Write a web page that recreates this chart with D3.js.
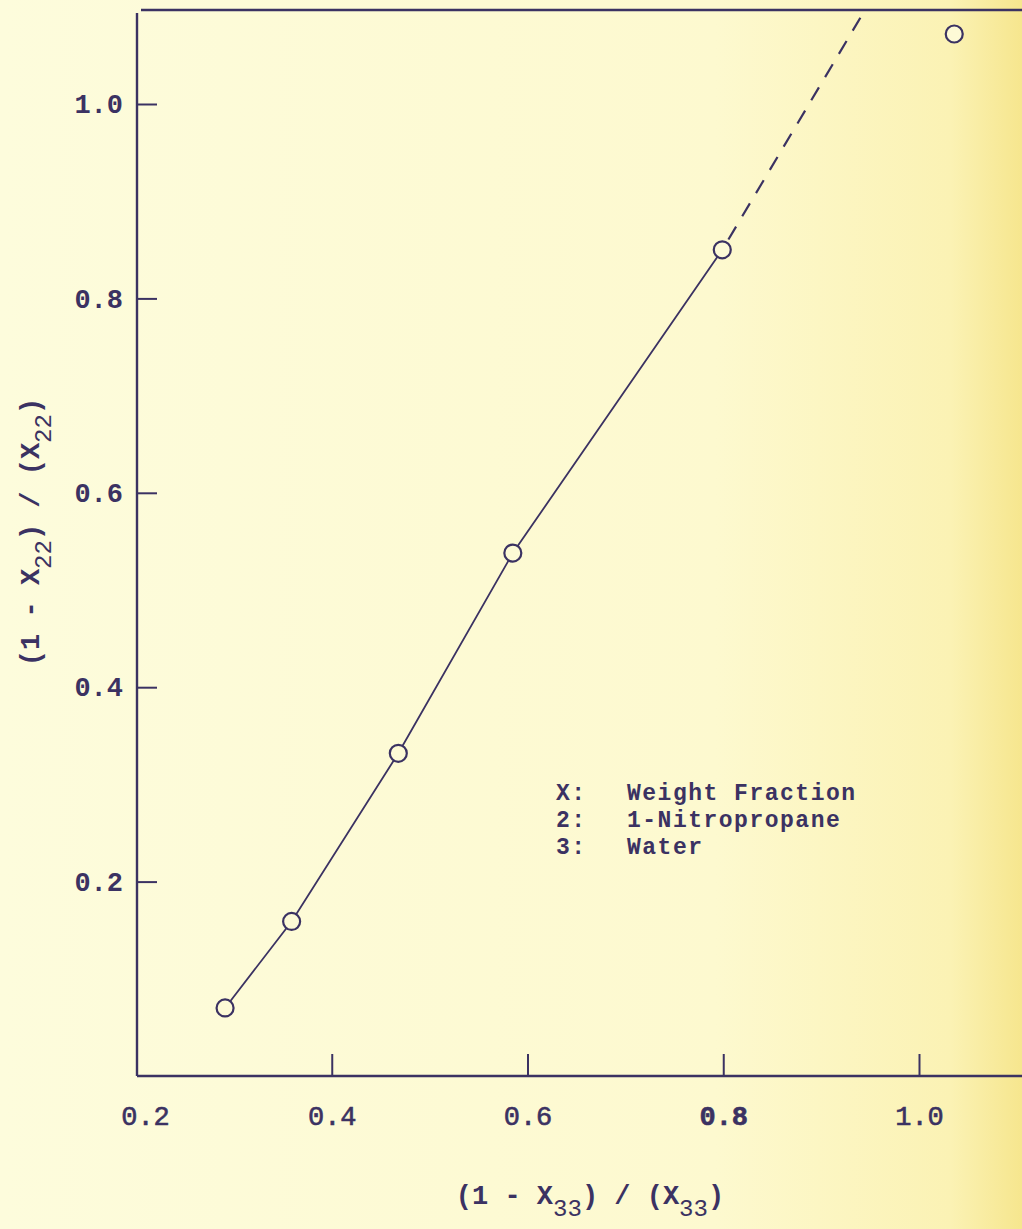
<!DOCTYPE html>
<html>
<head>
<meta charset="utf-8">
<script src="https://cdn.jsdelivr.net/npm/d3@7"></script>
<style>
  body { margin: 0; background: #fdfbd8; }
  text { font-family: "Liberation Mono", "DejaVu Sans Mono", monospace; fill: #3b3262; }
</style>
</head>
<body>
<div id="chart"></div>
<script>
// measured points
var xVals = [0.291, 0.359, 0.468, 0.585, 0.799, 1.036];
var yVals = [0.070, 0.159, 0.332, 0.538, 0.850, 1.072];
// points joined by the solid line (first five)
var solidCount = 5;
// dashed extrapolation, from the last joined point up to the frame
var dashX = [0.799, 0.945];
var dashY = [0.850, 1.097];

var xTicks = [0.2, 0.4, 0.6, 0.8, 1.0];
var yTicks = [0.2, 0.4, 0.6, 0.8, 1.0];
var legendKeys = ["X:", "2:", "3:"];
var legendText = ["Weight Fraction", "1-Nitropropane", "Water"];

var width = 1022;
var height = 1229;
var ink = "#3b3262";

var plotLeft = 137, plotTop = 10, plotBottom = 1076, plotRight = width;

var svg = d3.select("#chart")
    .append("svg")
    .attr("width", width)
    .attr("height", height);

// paper background, yellower towards the right edge
var defs = svg.append("defs");
var grad = defs.append("linearGradient")
    .attr("id", "paper")
    .attr("x1", "0%").attr("x2", "100%")
    .attr("y1", "0%").attr("y2", "0%");
grad.append("stop").attr("offset", "0%").attr("stop-color", "#fdfcdc");
grad.append("stop").attr("offset", "70%").attr("stop-color", "#fdf9cf");
grad.append("stop").attr("offset", "93%").attr("stop-color", "#fbf2b4");
grad.append("stop").attr("offset", "100%").attr("stop-color", "#f6e68e");

svg.append("rect")
    .attr("width", width)
    .attr("height", height)
    .attr("fill", "url(#paper)");

defs.append("clipPath")
    .attr("id", "plotClip")
    .append("rect")
    .attr("x", plotLeft).attr("y", plotTop)
    .attr("width", plotRight - plotLeft).attr("height", plotBottom - plotTop);

var x = d3.scaleLinear().domain([0.2, 1.0]).range([136, 919]);
var y = d3.scaleLinear().domain([0, 1.0]).range([1076, 104]);

// frame: left axis, bottom axis, top rule
var frame = svg.append("g")
    .attr("stroke", ink)
    .attr("stroke-width", 2.4)
    .attr("fill", "none");
frame.append("line").attr("x1", plotLeft).attr("x2", plotLeft).attr("y1", plotTop + 3).attr("y2", plotBottom);
frame.append("line").attr("x1", plotLeft).attr("x2", plotRight).attr("y1", plotBottom).attr("y2", plotBottom);
frame.append("line").attr("x1", plotLeft + 4).attr("x2", plotRight).attr("y1", plotTop).attr("y2", plotTop);

// x axis: ticks point up into the plot
var xAxis = d3.axisBottom(x)
    .tickValues(xTicks)
    .tickSize(-22)
    .tickPadding(30)
    .tickFormat(d3.format(".1f"));

svg.append("g")
    .attr("transform", `translate(0, ${plotBottom})`)
    .call(xAxis)
    .call(function(g) {
        g.select(".domain").remove();
        g.selectAll(".tick line")
            .attr("stroke", ink)
            .attr("stroke-width", 2)
            .attr("display", function(d) { return d <= 0.2 ? "none" : null; });
        g.selectAll(".tick text")
            .attr("font-size", 27)
            .attr("font-family", "Liberation Mono")
            .attr("font-weight", function(d) { return d == 0.8 ? "bold" : "normal"; })
            .attr("fill", ink)
            .attr("stroke", ink)
            .attr("stroke-width", 0.6)
            .attr("dx", function(d) { return d <= 0.2 ? 9 : 0; });
    });

// y axis: ticks point right into the plot
var yAxis = d3.axisLeft(y)
    .tickValues(yTicks)
    .tickSize(-20)
    .tickPadding(14)
    .tickFormat(d3.format(".1f"));

svg.append("g")
    .attr("transform", `translate(${plotLeft}, 0)`)
    .call(yAxis)
    .call(function(g) {
        g.select(".domain").remove();
        g.selectAll(".tick line")
            .attr("stroke", ink)
            .attr("stroke-width", 2);
        g.selectAll(".tick text")
            .attr("font-size", 27)
            .attr("font-family", "Liberation Mono")
            .attr("font-weight", "bold")
            .attr("fill", ink);
    });

// solid line through the measured points, then dashed extension
var pts = xVals.map(function(v, i) { return [v, yVals[i]]; });
var line = d3.line()
    .x(function(d) { return x(d[0]); })
    .y(function(d) { return y(d[1]); });

var plot = svg.append("g").attr("clip-path", "url(#plotClip)");

plot.append("path")
    .attr("d", line(pts.slice(0, solidCount)))
    .attr("fill", "none")
    .attr("stroke", ink)
    .attr("stroke-width", 1.8);

plot.append("path")
    .attr("d", line(dashX.map(function(v, i) { return [v, dashY[i]]; })))
    .attr("fill", "none")
    .attr("stroke", ink)
    .attr("stroke-width", 2.2)
    .attr("stroke-dasharray", "15,12")
    .attr("stroke-dashoffset", -12);

// open circles, filled with paper colour so the line stops at the rim
plot.selectAll("circle")
    .data(pts)
    .enter()
    .append("circle")
    .attr("cx", function(d) { return x(d[0]); })
    .attr("cy", function(d) { return y(d[1]); })
    .attr("r", 8.5)
    .attr("fill", "#fdfad6")
    .attr("stroke", ink)
    .attr("stroke-width", 2.2);

// legend
var legend = svg.append("g")
    .attr("font-size", 23)
    .attr("letter-spacing", 1.5)
    .attr("font-weight", "bold");
legend.selectAll(".key")
    .data(legendKeys)
    .enter()
    .append("text")
    .attr("class", "key")
    .attr("x", 556)
    .attr("y", function(d, i) { return 800 + i * 27; })
    .text(function(d) { return d; });
legend.selectAll(".val")
    .data(legendText)
    .enter()
    .append("text")
    .attr("class", "val")
    .attr("x", 627)
    .attr("y", function(d, i) { return 800 + i * 27; })
    .text(function(d) { return d; });

// axis titles with subscripts
function title(g, sub) {
    g.append("tspan").text("(1 - X");
    g.append("tspan").attr("dy", 12).attr("font-size", 24).attr("font-weight", "normal").text(sub);
    g.append("tspan").attr("dy", -12).text(") / (X");
    g.append("tspan").attr("dy", 12).attr("font-size", 24).attr("font-weight", "normal").text(sub);
    g.append("tspan").attr("dy", -12).text(")");
}

var xTitle = svg.append("text")
    .attr("x", 590)
    .attr("y", 1204)
    .attr("text-anchor", "middle")
    .attr("font-size", 27)
    .attr("font-weight", "bold");
title(xTitle, "33");

var yTitle = svg.append("text")
    .attr("transform", "translate(39, 532) rotate(-90)")
    .attr("text-anchor", "middle")
    .attr("font-size", 27)
    .attr("font-weight", "bold");
title(yTitle, "22");
</script>
</body>
</html>
